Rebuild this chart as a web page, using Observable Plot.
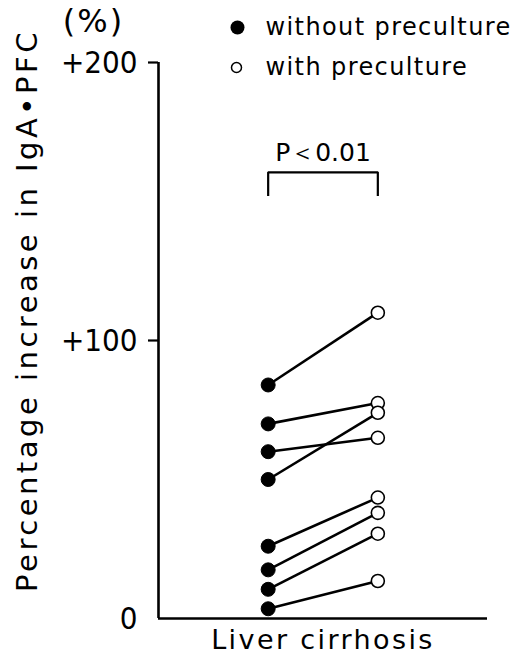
<!DOCTYPE html>
<html>
<head>
<meta charset="utf-8">
<script src="https://cdn.jsdelivr.net/npm/d3@7"></script>
<script src="https://cdn.jsdelivr.net/npm/@observablehq/plot@0.6"></script>
<style>
  html, body { margin: 0; padding: 0; background: #fff; }
  #chart svg { display: block; }
</style>
</head>
<body>
<div id="chart"></div>
<script>
// Two measurements per patient (liver cirrhosis): PFC increase without and with preculture
const groups = ["without preculture", "with preculture"];
const groupX = [1, 2];
const withoutPreculture = [84, 70, 60, 50, 26, 17.5, 10.5, 3.5];
const withPreculture = [110, 77.5, 65, 74, 43.5, 38, 30.5, 13.5];
const yTicks = [0, 100, 200];
const yTickLabels = ["0", "+100", "+200"];
const categoryLabel = "Liver cirrhosis";
const yLabel = "Percentage increase in IgA•PFC";
const unitLabel = "(%)";
const pLabel = "P＜0.01";
const bracket = {top: 160.5, foot: 152};

const pairs = withoutPreculture.map((v, i) => ({id: i, before: v, after: withPreculture[i]}));
const before = pairs.map(d => ({x: groupX[0], y: d.before}));
const after = pairs.map(d => ({x: groupX[1], y: d.after}));

const sans = "'DejaVu Sans', 'Noto Sans', sans-serif";
const narrow = "'Liberation Sans Narrow', 'DejaVu Sans Condensed', 'DejaVu Sans', sans-serif";

const tickLabelFor = d => yTickLabels[yTicks.indexOf(d)];

const chart = Plot.plot({
  width: 523,
  height: 658,
  marginLeft: 158,
  marginRight: 36,
  marginTop: 62,
  marginBottom: 40,
  x: {domain: [0, 3], axis: null},
  y: {domain: [0, 200], axis: null},
  style: {background: "#fff", color: "#000", fontFamily: sans},
  marks: [
    // axes frame
    Plot.ruleX([0], {y1: 0, y2: 200, stroke: "#000", strokeWidth: 2.6}),
    Plot.ruleY([0], {x1: 0, x2: 3, stroke: "#000", strokeWidth: 2.6}),
    Plot.axisY(yTicks.filter(d => d > 0), {
      tickSize: 10, strokeWidth: 2.2, stroke: "#000", tickFormat: () => ""
    }),
    // value-axis labels
    Plot.text(yTicks, {
      x: 0, y: d => d, text: tickLabelFor, textAnchor: "end", lineAnchor: "middle",
      dx: -21, dy: 1, fontSize: 31, fontFamily: narrow, fill: "#000"
    }),
    // significance bracket
    Plot.line([{x: groupX[0], y: bracket.foot}, {x: groupX[0], y: bracket.top}, {x: groupX[1], y: bracket.top}, {x: groupX[1], y: bracket.foot}],
      {x: "x", y: "y", stroke: "#000", strokeWidth: 2.2, strokeLinejoin: "miter", strokeLinecap: "butt"}),
    Plot.text([pLabel], {x: (groupX[0] + groupX[1]) / 2, y: bracket.top, text: d => d, dy: -19, fontSize: 25, fill: "#000"}),
    // paired lines
    Plot.link(pairs, {x1: () => groupX[0], y1: "before", x2: () => groupX[1], y2: "after", stroke: "#000", strokeWidth: 2.6}),
    Plot.dot(before, {x: "x", y: "y", r: 7, fill: "#000", stroke: "#000", strokeWidth: 1}),
    Plot.dot(after, {x: "x", y: "y", r: 6.5, fill: "#fff", stroke: "#000", strokeWidth: 1.6}),
    // category label
    Plot.text([categoryLabel], {frameAnchor: "bottom", text: d => d, textAnchor: "middle", dy: 30, fontSize: 27, fill: "#000"}),
    // axis title and unit
    Plot.text([yLabel], {frameAnchor: "left", text: d => d, textAnchor: "middle", rotate: -90, dx: -131, dy: -30, fontSize: 29, fill: "#000"}),
    Plot.text([unitLabel], {frameAnchor: "top-left", text: d => d, textAnchor: "middle", lineAnchor: "middle", dx: -65, dy: -41, fontSize: 32, fill: "#000"}),
    // legend
    Plot.dot([groups[0]], {frameAnchor: "top-left", dx: 79, dy: -35, r: 7, fill: "#000"}),
    Plot.dot([groups[1]], {frameAnchor: "top-left", dx: 78, dy: 5, r: 5, fill: "#fff", stroke: "#000", strokeWidth: 1.5}),
    Plot.text([groups[0]], {frameAnchor: "top-left", text: d => d, dx: 107, dy: -35, textAnchor: "start", lineAnchor: "middle", fontSize: 24, fill: "#000"}),
    Plot.text([groups[1]], {frameAnchor: "top-left", text: d => d, dx: 107, dy: 5, textAnchor: "start", lineAnchor: "middle", fontSize: 24, fill: "#000"})
  ]
});

// widen the spacing of the longer labels
const spacing = new Map([
  [categoryLabel, 2.4],
  [yLabel, 3.5],
  [unitLabel, 2],
  [groups[0], 1.4],
  [groups[1], 1.4]
]);
d3.select(chart).selectAll("text").each(function () {
  const s = spacing.get(this.textContent);
  if (s != null) this.setAttribute("letter-spacing", s);
  if (yTickLabels.includes(this.textContent)) this.setAttribute("font-stretch", "condensed");
});

document.getElementById("chart").appendChild(chart);
</script>
</body>
</html>
